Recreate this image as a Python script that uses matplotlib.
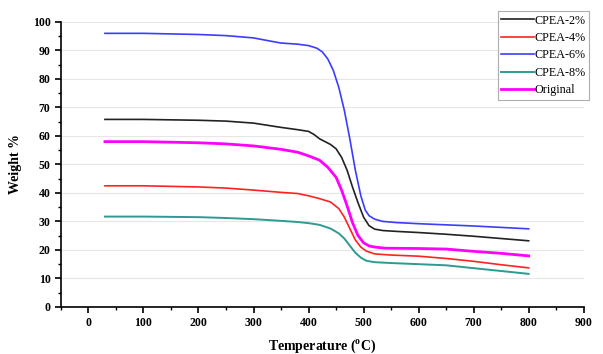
import matplotlib
matplotlib.use('Agg')
import matplotlib.pyplot as plt
from matplotlib.ticker import MultipleLocator

# TGA curves
t_cpea2 = [30, 100, 200, 250, 300, 350, 380, 400, 410, 420, 430, 440, 450, 460, 470, 480, 490, 500, 510, 520, 535, 560, 600, 650, 700, 750, 800]
w_cpea2 = [65.8, 65.8, 65.5, 65.2, 64.5, 63.0, 62.2, 61.6, 60.5, 59.0, 58.0, 57.0, 55.5, 52.5, 48.0, 42.0, 36.5, 31.5, 28.5, 27.3, 26.8, 26.5, 26.1, 25.5, 24.8, 24.0, 23.2]

t_cpea4 = [30, 100, 200, 250, 300, 350, 380, 400, 420, 440, 455, 465, 475, 485, 495, 505, 520, 550, 600, 650, 700, 750, 800]
w_cpea4 = [42.5, 42.5, 42.1, 41.7, 41.0, 40.2, 39.8, 39.0, 38.0, 36.8, 34.5, 31.5, 27.5, 23.5, 21.0, 19.6, 18.6, 18.2, 17.8, 17.0, 16.0, 14.8, 13.7]

t_cpea6 = [30, 100, 200, 250, 300, 330, 350, 380, 400, 415, 425, 435, 445, 455, 465, 475, 485, 495, 503, 510, 520, 535, 560, 600, 650, 700, 750, 800]
w_cpea6 = [96.0, 96.0, 95.6, 95.2, 94.4, 93.3, 92.6, 92.2, 91.7, 90.8, 89.5, 87.0, 83.0, 77.0, 69.0, 59.0, 48.0, 39.0, 34.0, 32.0, 30.8, 30.0, 29.6, 29.2, 28.8, 28.4, 27.9, 27.4]

t_cpea8 = [30, 100, 200, 250, 300, 350, 380, 400, 420, 440, 455, 465, 475, 485, 495, 505, 520, 550, 600, 650, 700, 750, 800]
w_cpea8 = [31.7, 31.7, 31.5, 31.2, 30.8, 30.2, 29.8, 29.4, 28.8, 27.5, 25.8, 24.0, 21.5, 19.0, 17.3, 16.2, 15.7, 15.4, 15.0, 14.6, 13.6, 12.6, 11.6]

t_orig = [30, 100, 200, 250, 300, 350, 380, 400, 420, 435, 450, 460, 470, 480, 490, 500, 510, 520, 540, 600, 650, 700, 750, 800]
w_orig = [58.0, 58.0, 57.6, 57.2, 56.5, 55.3, 54.3, 53.0, 51.5, 49.0, 45.5, 41.0, 35.5, 29.5, 25.0, 22.5, 21.4, 21.0, 20.6, 20.5, 20.3, 19.5, 18.8, 17.9]

plt.rcParams['font.family'] = ['Liberation Serif', 'DejaVu Serif']

fig = plt.figure(figsize=(6.03, 3.54), dpi=100)
ax = fig.add_axes([0.101, 0.133, 0.867, 0.805])

ax.plot(t_cpea2, w_cpea2, color='#222222', lw=1.2, label='CPEA-2%')
ax.plot(t_cpea4, w_cpea4, color='#ff2222', lw=1.2, label='CPEA-4%')
ax.plot(t_cpea6, w_cpea6, color='#3c3cff', lw=1.2, label='CPEA-6%')
ax.plot(t_cpea8, w_cpea8, color='#2e9a91', lw=1.4, label='CPEA-8%')
ax.plot(t_orig, w_orig, color='#ff00ff', lw=2.0, label='Original')

ax.set_xlim(-50, 900)
ax.set_ylim(0, 100)
ax.xaxis.set_major_locator(MultipleLocator(100))
ax.xaxis.set_minor_locator(MultipleLocator(50))
ax.yaxis.set_major_locator(MultipleLocator(10))
ax.yaxis.set_minor_locator(MultipleLocator(5))
ax.grid(axis='y', color='#e6e6e6', lw=0.8)
ax.set_axisbelow(True)

for s in ['top', 'right']:
    ax.spines[s].set_visible(False)
ax.spines['left'].set_linewidth(1.2)
ax.spines['bottom'].set_linewidth(1.2)
ax.tick_params(which='major', length=4, width=1.2, direction='out', labelsize=8.5)
ax.tick_params(which='minor', length=2.5, width=1.0, direction='out')
for lbl in ax.get_xticklabels() + ax.get_yticklabels():
    lbl.set_fontweight('bold')

ax.set_xlabel('Temperature ($^{\\mathregular{o}}$C)', fontsize=10, fontweight='bold', labelpad=6)
ax.set_ylabel('Weight %', fontsize=10, fontweight='bold', labelpad=8)

leg = fig.legend(loc='upper right', bbox_to_anchor=(0.977, 0.969), fontsize=8.7,
                 frameon=True, fancybox=False, handlelength=2.7, handletextpad=0.05,
                 borderpad=0.3, labelspacing=0.45, borderaxespad=0)
leg.get_frame().set_edgecolor('#999999')
leg.get_frame().set_linewidth(0.8)

fig.savefig('out.png', dpi=100)
